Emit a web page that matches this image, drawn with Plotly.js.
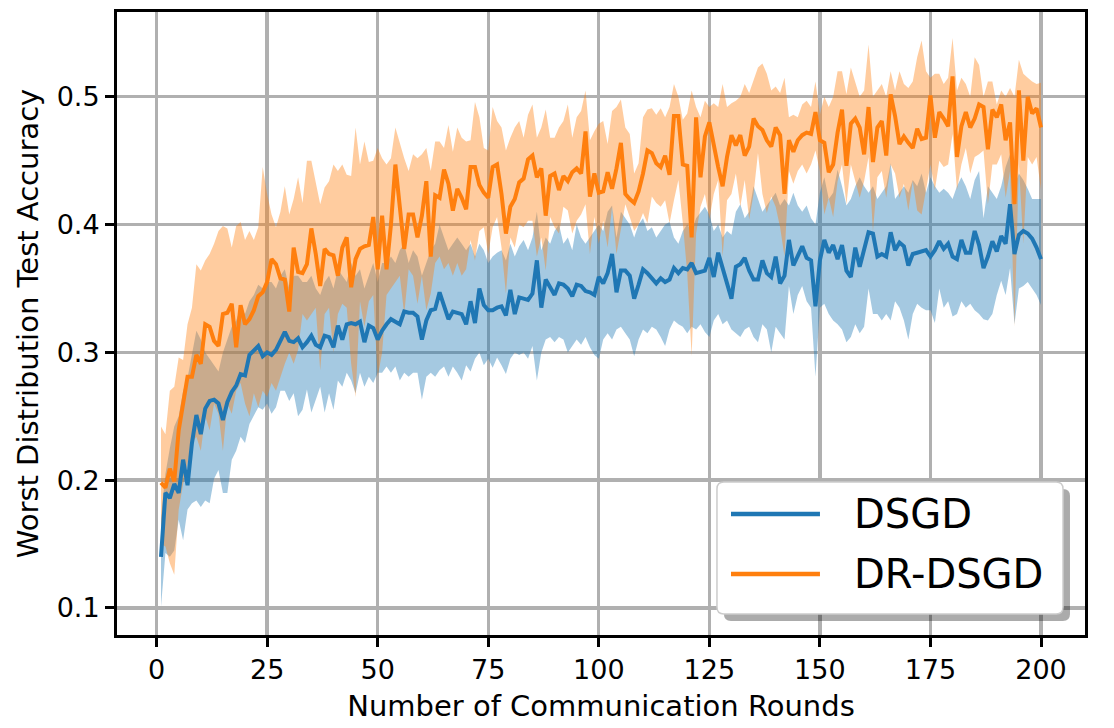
<!DOCTYPE html>
<html>
<head>
<meta charset="utf-8">
<script src="https://cdn.plot.ly/plotly-3.0.1.min.js"></script>
<style>
  html, body { margin: 0; padding: 0; background: #fff; }
  #chart { width: 1114px; height: 728px; }
</style>
</head>
<body>
<div id="chart"></div>
<script>
// Worst distribution test accuracy per communication round (mean and min/max band).
const dsgdMean = [
  0.140, 0.190, 0.186, 0.197, 0.190, 0.216, 0.196, 0.229, 0.251, 0.236,
  0.256, 0.262, 0.263, 0.260, 0.247, 0.261, 0.269, 0.274, 0.283, 0.282,
  0.298, 0.301, 0.305, 0.297, 0.300, 0.298, 0.302, 0.309, 0.316, 0.309,
  0.308, 0.311, 0.304, 0.308, 0.313, 0.306, 0.304, 0.313, 0.312, 0.304,
  0.321, 0.310, 0.322, 0.323, 0.322, 0.324, 0.308, 0.321, 0.319, 0.310,
  0.317, 0.322, 0.326, 0.324, 0.322, 0.332, 0.331, 0.331, 0.328, 0.310,
  0.325, 0.333, 0.334, 0.347, 0.336, 0.326, 0.332, 0.331, 0.330, 0.322,
  0.340, 0.323, 0.350, 0.337, 0.333, 0.333, 0.335, 0.336, 0.329, 0.349,
  0.330, 0.343, 0.342, 0.341, 0.346, 0.372, 0.335, 0.357, 0.351, 0.345,
  0.354, 0.353, 0.350, 0.344, 0.353, 0.352, 0.348, 0.347, 0.345, 0.359,
  0.354, 0.362, 0.377, 0.347, 0.364, 0.364, 0.360, 0.342, 0.353, 0.365,
  0.362, 0.358, 0.354, 0.358, 0.355, 0.357, 0.366, 0.362, 0.366, 0.365,
  0.370, 0.362, 0.363, 0.364, 0.374, 0.359, 0.378, 0.367, 0.354, 0.342,
  0.367, 0.369, 0.374, 0.364, 0.357, 0.357, 0.372, 0.362, 0.359, 0.375,
  0.354, 0.360, 0.388, 0.368, 0.375, 0.383, 0.374, 0.372, 0.336, 0.372,
  0.388, 0.378, 0.384, 0.373, 0.384, 0.364, 0.359, 0.382, 0.367, 0.382,
  0.394, 0.393, 0.375, 0.377, 0.375, 0.394, 0.380, 0.386, 0.383, 0.368,
  0.377, 0.378, 0.379, 0.380, 0.375, 0.380, 0.387, 0.381, 0.385, 0.375,
  0.373, 0.388, 0.378, 0.378, 0.395, 0.384, 0.366, 0.375, 0.387, 0.379,
  0.391, 0.385, 0.416, 0.377, 0.392, 0.395, 0.393, 0.389, 0.382, 0.373
];
const dsgdLow = [
  0.101, 0.143, 0.140, 0.145, 0.169, 0.153, 0.177, 0.182, 0.184, 0.179,
  0.184, 0.182, 0.201, 0.208, 0.190, 0.190, 0.216, 0.223, 0.234, 0.229,
  0.244, 0.250, 0.257, 0.255, 0.260, 0.252, 0.257, 0.270, 0.270, 0.262,
  0.268, 0.250, 0.255, 0.271, 0.253, 0.263, 0.273, 0.253, 0.268, 0.255,
  0.278, 0.273, 0.284, 0.278, 0.268, 0.284, 0.273, 0.281, 0.276, 0.284,
  0.284, 0.289, 0.284, 0.289, 0.278, 0.284, 0.281, 0.284, 0.284, 0.263,
  0.281, 0.284, 0.281, 0.286, 0.289, 0.281, 0.289, 0.284, 0.278, 0.290,
  0.285, 0.295, 0.300, 0.290, 0.295, 0.288, 0.296, 0.290, 0.283, 0.295,
  0.300, 0.298, 0.300, 0.295, 0.305, 0.278, 0.300, 0.310, 0.312, 0.308,
  0.312, 0.310, 0.300, 0.305, 0.310, 0.306, 0.312, 0.304, 0.298, 0.295,
  0.310, 0.315, 0.310, 0.318, 0.320, 0.315, 0.310, 0.297, 0.310, 0.318,
  0.315, 0.320, 0.318, 0.312, 0.305, 0.318, 0.325, 0.322, 0.320, 0.315,
  0.320, 0.318, 0.322, 0.316, 0.312, 0.325, 0.330, 0.322, 0.325, 0.318,
  0.315, 0.312, 0.318, 0.320, 0.312, 0.308, 0.322, 0.318, 0.300, 0.320,
  0.315, 0.310, 0.352, 0.330, 0.345, 0.352, 0.340, 0.335, 0.281, 0.335,
  0.338, 0.330, 0.325, 0.322, 0.318, 0.308, 0.312, 0.322, 0.315, 0.320,
  0.350, 0.330, 0.330, 0.325, 0.330, 0.325, 0.340, 0.335, 0.325, 0.310,
  0.330, 0.338, 0.335, 0.333, 0.333, 0.323, 0.350, 0.335, 0.340, 0.328,
  0.330, 0.340, 0.335, 0.338, 0.333, 0.330, 0.326, 0.325, 0.330, 0.345,
  0.356, 0.345, 0.366, 0.322, 0.350, 0.352, 0.355, 0.350, 0.345, 0.337
];
const dsgdHigh = [
  0.170, 0.205, 0.225, 0.242, 0.250, 0.270, 0.280, 0.300, 0.317, 0.310,
  0.300, 0.295, 0.290, 0.285, 0.300, 0.310, 0.320, 0.325, 0.335, 0.330,
  0.340, 0.345, 0.353, 0.350, 0.355, 0.355, 0.350, 0.360, 0.365, 0.350,
  0.360, 0.360, 0.355, 0.355, 0.360, 0.350, 0.345, 0.355, 0.360, 0.350,
  0.365, 0.360, 0.355, 0.370, 0.360, 0.365, 0.350, 0.360, 0.370, 0.355,
  0.370, 0.370, 0.375, 0.370, 0.380, 0.385, 0.370, 0.380, 0.375, 0.360,
  0.370, 0.380, 0.385, 0.400, 0.390, 0.380, 0.385, 0.390, 0.385, 0.380,
  0.385, 0.375, 0.385, 0.380, 0.370, 0.375, 0.378, 0.380, 0.372, 0.385,
  0.375, 0.383, 0.388, 0.380, 0.390, 0.410, 0.380, 0.390, 0.385, 0.395,
  0.400, 0.385, 0.390, 0.380, 0.400, 0.390, 0.385, 0.390, 0.395, 0.400,
  0.395, 0.410, 0.415, 0.390, 0.410, 0.405, 0.400, 0.390, 0.400, 0.405,
  0.395, 0.398, 0.390, 0.395, 0.400, 0.402, 0.390, 0.385, 0.395, 0.400,
  0.395, 0.405, 0.410, 0.414, 0.408, 0.395, 0.400, 0.390, 0.395, 0.392,
  0.410, 0.416, 0.405, 0.410, 0.430, 0.420, 0.410, 0.415, 0.420, 0.425,
  0.415, 0.420, 0.415, 0.425, 0.415, 0.410, 0.415, 0.405, 0.400, 0.425,
  0.437, 0.420, 0.425, 0.443, 0.430, 0.415, 0.420, 0.430, 0.437, 0.430,
  0.425, 0.430, 0.420, 0.425, 0.430, 0.448, 0.420, 0.425, 0.430, 0.425,
  0.435, 0.430, 0.440, 0.425, 0.437, 0.430, 0.425, 0.428, 0.425, 0.420,
  0.430, 0.437, 0.430, 0.420, 0.435, 0.442, 0.405, 0.430, 0.425, 0.420,
  0.430, 0.445, 0.455, 0.430, 0.440, 0.435, 0.428, 0.420, 0.420, 0.420
];
const drMean = [
  0.198, 0.194, 0.209, 0.199, 0.239, 0.260, 0.281, 0.281, 0.298, 0.291,
  0.322, 0.320, 0.309, 0.305, 0.330, 0.331, 0.338, 0.304, 0.337, 0.322,
  0.326, 0.333, 0.344, 0.347, 0.355, 0.373, 0.369, 0.358, 0.357, 0.332,
  0.382, 0.363, 0.362, 0.369, 0.397, 0.377, 0.352, 0.381, 0.377, 0.376,
  0.360, 0.382, 0.390, 0.351, 0.373, 0.381, 0.383, 0.384, 0.406, 0.365,
  0.407, 0.365, 0.400, 0.447, 0.417, 0.381, 0.408, 0.408, 0.390, 0.407,
  0.434, 0.375, 0.423, 0.421, 0.443, 0.432, 0.411, 0.428, 0.421, 0.412,
  0.445, 0.445, 0.431, 0.425, 0.421, 0.445, 0.447, 0.424, 0.393, 0.414,
  0.420, 0.433, 0.436, 0.451, 0.454, 0.437, 0.444, 0.407, 0.438, 0.440,
  0.427, 0.438, 0.434, 0.441, 0.444, 0.440, 0.473, 0.422, 0.440, 0.425,
  0.426, 0.441, 0.428, 0.444, 0.464, 0.424, 0.420, 0.417, 0.426, 0.440,
  0.458, 0.456, 0.448, 0.445, 0.454, 0.439, 0.485, 0.485, 0.447, 0.446,
  0.390, 0.484, 0.437, 0.469, 0.480, 0.461, 0.445, 0.430, 0.453, 0.470,
  0.462, 0.470, 0.454, 0.461, 0.483, 0.477, 0.474, 0.466, 0.461, 0.476,
  0.470, 0.424, 0.466, 0.457, 0.466, 0.470, 0.472, 0.471, 0.488, 0.466,
  0.464, 0.441, 0.447, 0.472, 0.490, 0.446, 0.479, 0.483, 0.476, 0.455,
  0.492, 0.449, 0.476, 0.481, 0.454, 0.502, 0.485, 0.463, 0.469, 0.464,
  0.460, 0.475, 0.467, 0.468, 0.501, 0.468, 0.488, 0.483, 0.477, 0.516,
  0.453, 0.477, 0.488, 0.476, 0.483, 0.494, 0.492, 0.459, 0.490, 0.484,
  0.494, 0.466, 0.480, 0.416, 0.505, 0.450, 0.500, 0.487, 0.491, 0.476
];
const drLow = [
  0.150, 0.148, 0.135, 0.126, 0.177, 0.197, 0.213, 0.229, 0.234, 0.223,
  0.250, 0.239, 0.260, 0.252, 0.223, 0.260, 0.252, 0.270, 0.276, 0.260,
  0.250, 0.268, 0.257, 0.270, 0.265, 0.276, 0.270, 0.281, 0.291, 0.300,
  0.291, 0.302, 0.330, 0.325, 0.330, 0.335, 0.286, 0.330, 0.335, 0.300,
  0.330, 0.338, 0.335, 0.291, 0.265, 0.340, 0.320, 0.340, 0.345, 0.281,
  0.300, 0.345, 0.350, 0.355, 0.360, 0.330, 0.365, 0.360, 0.338, 0.360,
  0.333, 0.346, 0.370, 0.375, 0.365, 0.370, 0.360, 0.370, 0.360, 0.365,
  0.388, 0.372, 0.395, 0.398, 0.377, 0.398, 0.406, 0.382, 0.346, 0.390,
  0.382, 0.400, 0.398, 0.403, 0.403, 0.375, 0.390, 0.364, 0.406, 0.398,
  0.393, 0.414, 0.411, 0.393, 0.403, 0.408, 0.416, 0.377, 0.406, 0.385,
  0.403, 0.382, 0.414, 0.377, 0.398, 0.416, 0.406, 0.395, 0.400, 0.409,
  0.401, 0.422, 0.417, 0.414, 0.419, 0.401, 0.419, 0.435, 0.401, 0.362,
  0.297, 0.393, 0.414, 0.424, 0.404, 0.424, 0.435, 0.375, 0.419, 0.424,
  0.440, 0.414, 0.435, 0.404, 0.424, 0.456, 0.424, 0.409, 0.422, 0.414,
  0.398, 0.375, 0.442, 0.432, 0.442, 0.447, 0.440, 0.447, 0.458, 0.442,
  0.408, 0.421, 0.406, 0.434, 0.447, 0.416, 0.447, 0.434, 0.421, 0.434,
  0.453, 0.395, 0.437, 0.442, 0.421, 0.447, 0.440, 0.421, 0.432, 0.411,
  0.434, 0.411, 0.408, 0.427, 0.447, 0.427, 0.450, 0.445, 0.447, 0.471,
  0.427, 0.447, 0.460, 0.440, 0.453, 0.455, 0.458, 0.416, 0.447, 0.447,
  0.455, 0.421, 0.442, 0.320, 0.447, 0.385, 0.453, 0.447, 0.453, 0.427
];
const drHigh = [
  0.242, 0.236, 0.270, 0.273, 0.296, 0.294, 0.322, 0.335, 0.369, 0.364,
  0.372, 0.377, 0.385, 0.395, 0.399, 0.397, 0.382, 0.399, 0.402, 0.388,
  0.395, 0.388, 0.398, 0.445, 0.424, 0.408, 0.398, 0.410, 0.430, 0.408,
  0.420, 0.437, 0.417, 0.450, 0.450, 0.432, 0.416, 0.429, 0.434, 0.447,
  0.442, 0.447, 0.439, 0.438, 0.476, 0.447, 0.465, 0.449, 0.450, 0.460,
  0.452, 0.447, 0.452, 0.476, 0.463, 0.452, 0.442, 0.455, 0.452, 0.455,
  0.460, 0.442, 0.465, 0.465, 0.460, 0.478, 0.457, 0.476, 0.468, 0.465,
  0.466, 0.496, 0.484, 0.460, 0.458, 0.492, 0.481, 0.476, 0.458, 0.468,
  0.476, 0.481, 0.468, 0.486, 0.494, 0.468, 0.476, 0.490, 0.468, 0.468,
  0.476, 0.481, 0.494, 0.468, 0.484, 0.489, 0.505, 0.466, 0.473, 0.479,
  0.481, 0.463, 0.489, 0.492, 0.498, 0.476, 0.471, 0.440, 0.448, 0.484,
  0.490, 0.491, 0.486, 0.491, 0.484, 0.492, 0.510, 0.500, 0.482, 0.487,
  0.505, 0.492, 0.484, 0.497, 0.492, 0.495, 0.492, 0.510, 0.492, 0.495,
  0.497, 0.500, 0.510, 0.503, 0.513, 0.523, 0.526, 0.518, 0.505, 0.508,
  0.503, 0.515, 0.484, 0.486, 0.484, 0.494, 0.497, 0.492, 0.512, 0.486,
  0.500, 0.492, 0.500, 0.520, 0.520, 0.502, 0.523, 0.512, 0.500, 0.505,
  0.541, 0.500, 0.505, 0.510, 0.500, 0.520, 0.505, 0.520, 0.510, 0.507,
  0.512, 0.531, 0.544, 0.520, 0.515, 0.518, 0.518, 0.510, 0.515, 0.546,
  0.505, 0.515, 0.510, 0.500, 0.531, 0.525, 0.500, 0.512, 0.512, 0.494,
  0.505, 0.500, 0.507, 0.500, 0.529, 0.518, 0.515, 0.512, 0.510, 0.511
];
const seriesNames = ['DSGD', 'DR-DSGD'];
const xTicks = [0, 25, 50, 75, 100, 125, 150, 175, 200];
const yTicks = [0.1, 0.2, 0.3, 0.4, 0.5];

// Round numbers 1..200 for the x axis.
const rounds = dsgdMean.map((_, i) => i + 1);

const BLUE = '#1f77b4';
const ORANGE = '#ff7f0e';
const FONT = 'DejaVu Sans, sans-serif';

// Shaded band: invisible lower edge, then upper edge filled down to it.
const band = (low, high, fill) => [
  { x: rounds, y: low, type: 'scatter', mode: 'lines', line: {width: 0}, hoverinfo: 'skip', showlegend: false },
  { x: rounds, y: high, type: 'scatter', mode: 'lines', line: {width: 0}, fill: 'tonexty', fillcolor: fill, hoverinfo: 'skip', showlegend: false }
];

const traces = [
  ...band(dsgdLow, dsgdHigh, 'rgba(31,119,180,0.4)'),
  ...band(drLow, drHigh, 'rgba(255,127,14,0.4)'),
  { x: rounds, y: dsgdMean, type: 'scatter', mode: 'lines', name: seriesNames[0], line: {color: BLUE, width: 4} },
  { x: rounds, y: drMean, type: 'scatter', mode: 'lines', name: seriesNames[1], line: {color: ORANGE, width: 4} }
];

// Rounded rectangle path in paper coordinates (used for the legend box).
const roundRect = (x0, y0, x1, y1, rx, ry) =>
  `M${x0 + rx},${y1} L${x1 - rx},${y1} Q${x1},${y1} ${x1},${y1 - ry} ` +
  `L${x1},${y0 + ry} Q${x1},${y0} ${x1 - rx},${y0} L${x0 + rx},${y0} ` +
  `Q${x0},${y0} ${x0},${y0 + ry} L${x0},${y1 - ry} Q${x0},${y1} ${x0 + rx},${y1} Z`;

// Legend drawn by hand so the sample lines are as long as in the reference.
const legendShapes = [
  { type: 'path', xref: 'paper', yref: 'paper', layer: 'above',
    path: roundRect(0.627, 0.0225, 0.9845, 0.2343, 0.0072, 0.0112),
    fillcolor: 'rgba(0,0,0,0.33)', line: {width: 0} },
  { type: 'path', xref: 'paper', yref: 'paper', layer: 'above',
    path: roundRect(0.6198, 0.0337, 0.9773, 0.2456, 0.0072, 0.0112),
    fillcolor: '#ffffff', line: {color: '#cccccc', width: 1.5} },
  { type: 'line', xref: 'paper', yref: 'paper', layer: 'above',
    x0: 0.6343, x1: 0.7262, y0: 0.1942, y1: 0.1942, line: {color: BLUE, width: 4.5} },
  { type: 'line', xref: 'paper', yref: 'paper', layer: 'above',
    x0: 0.6343, x1: 0.7262, y0: 0.0979, y1: 0.0979, line: {color: ORANGE, width: 4.5} }
];
const legendLabels = seriesNames.map((name, k) => ({
  xref: 'paper', yref: 'paper', x: 0.7593, y: [0.1942, 0.0979][k],
  xanchor: 'left', yanchor: 'middle', showarrow: false,
  text: name, font: {family: FONT, size: 40, color: '#000'}
}));

const axisCommon = {
  showline: true, linecolor: '#000', linewidth: 3, mirror: true,
  ticks: 'outside', ticklen: 9, tickwidth: 3, tickcolor: '#000',
  showgrid: true, gridcolor: '#b0b0b0', gridwidth: 3.3,
  zeroline: false, tickfont: {family: FONT, size: 27, color: '#000'}
};

const layout = {
  width: 1114, height: 728,
  margin: {l: 117, r: 29, t: 12, b: 93},
  paper_bgcolor: '#fff', plot_bgcolor: '#fff',
  showlegend: false,
  xaxis: {
    ...axisCommon,
    range: [-8.95, 209.95],
    tickvals: xTicks,
    title: {text: 'Number of Communication Rounds', font: {family: FONT, size: 29, color: '#000'}, standoff: 12}
  },
  yaxis: {
    ...axisCommon,
    range: [0.0788, 0.5664],
    tickvals: yTicks, tickformat: '.1f',
    title: {text: 'Worst Distribution Test Accuracy', font: {family: FONT, size: 29, color: '#000'}, standoff: 10}
  },
  shapes: legendShapes,
  annotations: legendLabels
};

Plotly.newPlot('chart', traces, layout, {displayModeBar: false, staticPlot: true});
</script>
</body>
</html>
